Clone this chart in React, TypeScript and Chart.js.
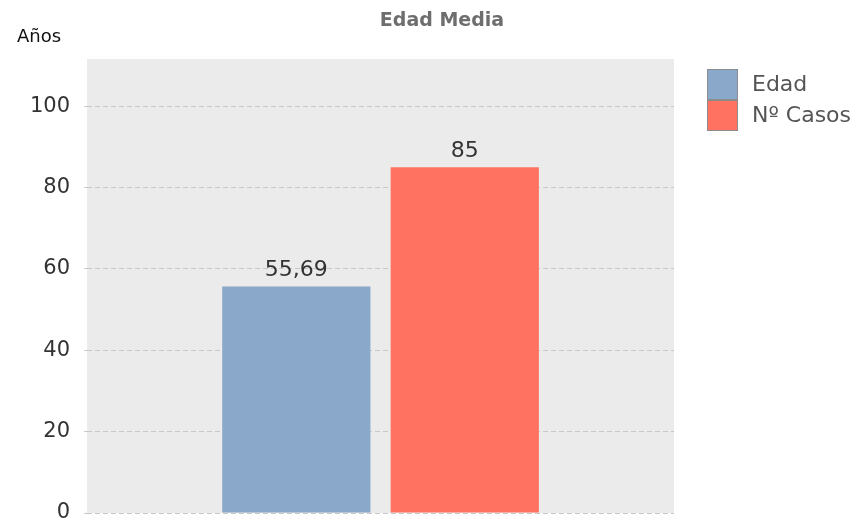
import React, { useEffect, useRef } from "react";
import { Chart, registerables } from "chart.js";

Chart.register(...registerables);

const categories = [""];
const seriesNames = ["Edad", "Nº Casos"];
const edadValues = [55.69];
const casosValues = [85];
const yMax = 111.6;
const yStep = 20;
const chartTitle = "Edad Media";
const yAxisTitle = "Años";

const FONT = "'DejaVu Sans', sans-serif";
const seriesColors = ["#8aa8c9", "#ff7261"];

function formatValue(v: number): string {
  return String(v).replace(".", ",");
}

const decorPlugin = {
  id: "decor",
  beforeDraw(chart: any) {
    const { ctx, chartArea } = chart;
    ctx.save();
    ctx.fillStyle = "#ebebeb";
    ctx.fillRect(chartArea.left, chartArea.top, chartArea.right - chartArea.left, chartArea.bottom - chartArea.top);
    ctx.restore();
  },
  afterDatasetsDraw(chart: any) {
    const { ctx } = chart;
    ctx.save();
    ctx.font = `22px ${FONT}`;
    ctx.fillStyle = "#333";
    ctx.textAlign = "center";
    ctx.textBaseline = "bottom";
    chart.data.datasets.forEach((ds: any, i: number) => {
      const meta = chart.getDatasetMeta(i);
      meta.data.forEach((el: any, j: number) => {
        ctx.fillText(formatValue(ds.data[j]), el.x, el.y - 5);
      });
    });
    ctx.restore();
  },
  afterDraw(chart: any) {
    const { ctx, chartArea } = chart;
    ctx.save();
    // title
    ctx.font = `bold 19px ${FONT}`;
    ctx.fillStyle = "#6e6e6e";
    ctx.textAlign = "center";
    ctx.textBaseline = "middle";
    ctx.fillText(chartTitle, 442, 21);
    // y axis title
    ctx.font = `18px ${FONT}`;
    ctx.fillStyle = "#111";
    ctx.textAlign = "left";
    ctx.fillText(yAxisTitle, 17, 37);
    // legend
    const bx = chartArea.right + 33;
    const by = 69;
    const bw = 31;
    const bh = 31;
    chart.data.datasets.forEach((ds: any, i: number) => {
      const y = by + i * bh;
      ctx.fillStyle = ds.backgroundColor;
      ctx.fillRect(bx, y, bw, bh);
      ctx.strokeStyle = "#8c8c8c";
      ctx.lineWidth = 1;
      ctx.strokeRect(bx + 0.5, y + 0.5, bw - 1, bh - 1);
      ctx.font = `22px ${FONT}`;
      ctx.fillStyle = "#555";
      ctx.textAlign = "left";
      ctx.textBaseline = "middle";
      ctx.fillText(ds.label, bx + 45, y + bh / 2 + 1);
    });
    ctx.restore();
  },
};

export default function App() {
  const ref = useRef<HTMLCanvasElement | null>(null);
  useEffect(() => {
    if (!ref.current) return;
    const chart = new Chart(ref.current, {
      type: "bar",
      data: {
        labels: categories,
        datasets: [
          { label: seriesNames[0], data: edadValues, backgroundColor: seriesColors[0] },
          { label: seriesNames[1], data: casosValues, backgroundColor: seriesColors[1] },
        ],
      },
      options: {
        responsive: false,
        animation: false,
        devicePixelRatio: 1,
        categoryPercentage: 0.574,
        barPercentage: 0.88,
        layout: { autoPadding: false, padding: { left: 16, right: 188, top: 59, bottom: 11 } },
        plugins: {
          legend: { display: false },
          title: { display: false },
          tooltip: { enabled: false },
        },
        scales: {
          x: { display: false },
          y: {
            min: 0,
            max: yMax,
            border: { display: false, dash: [5, 3] },
            grid: { color: "#c8c8c8", tickLength: 3, lineWidth: 1 },
            ticks: {
              stepSize: yStep,
              includeBounds: false,
              padding: 14,
              color: "#333",
              font: { family: FONT, size: 21 },
            },
            afterFit: (scale: any) => {
              scale.paddingTop = 0;
              scale.paddingBottom = 0;
            },
          },
        },
      } as any,
      plugins: [decorPlugin],
    });
    return () => chart.destroy();
  }, []);
  return (
    <div style={{ position: "absolute", left: 0, top: 0, width: 862, height: 524 }}>
      <canvas ref={ref} width={862} height={524} />
    </div>
  );
}
